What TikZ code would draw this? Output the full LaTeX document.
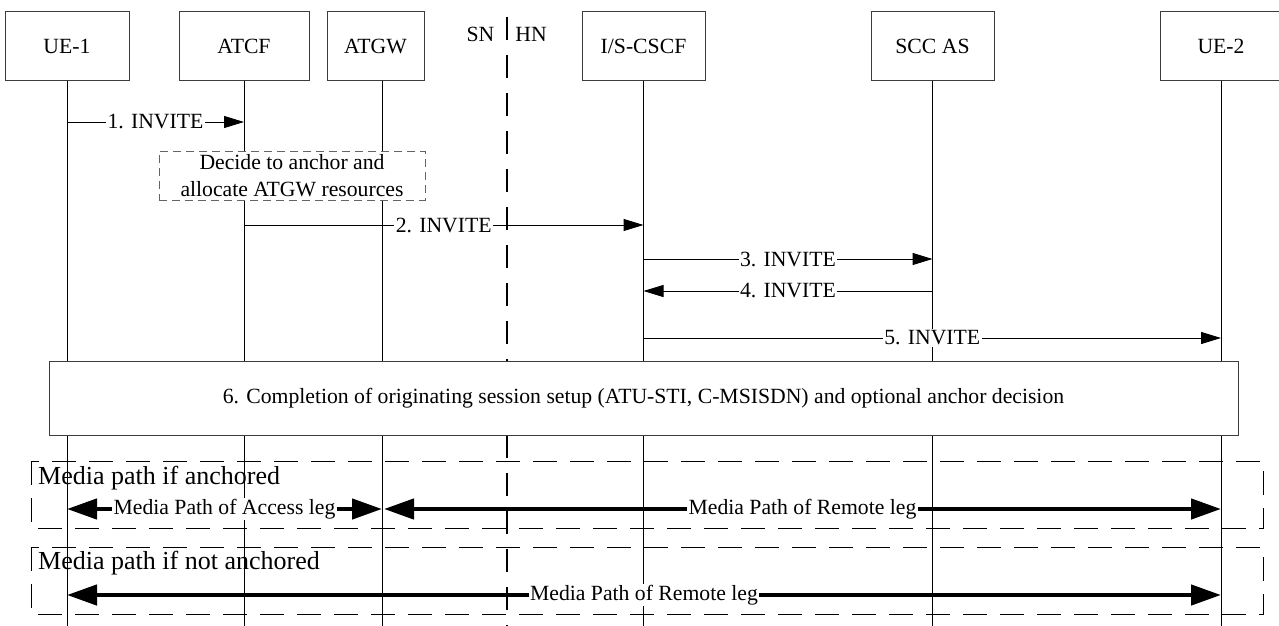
\documentclass[tikz,border=0pt]{standalone}
\usepackage{fontspec}
\setmainfont{Liberation Serif}
\usetikzlibrary{arrows.meta,positioning}
\usepackage{xcolor}
\definecolor{Ink}{RGB}{0,0,0}
\definecolor{BoxEdge}{RGB}{60,60,60}
\definecolor{NoteEdge}{RGB}{100,100,100}
\newcommand{\lblfont}{\fontsize{21.7}{27}\selectfont}
\tikzset{
  ent/.style={rectangle,draw=BoxEdge,fill=white,font=\lblfont,
              minimum width=123pt,minimum height=68pt,inner sep=0pt,line width=1pt},
  lline/.style={draw=Ink,line width=1pt},
  msg/.style={-{Triangle[length=20pt,width=12pt]},Ink,line width=1pt},
  mlbl/.style={fill=white,inner sep=1.5pt,font=\lblfont},
  note/.style={rectangle,draw=NoteEdge,dash pattern=on 8pt off 5pt,fill=white,
               align=center,font=\lblfont,minimum width=266pt,minimum height=49pt,inner sep=0pt},
  phase/.style={rectangle,draw=BoxEdge,fill=white,font=\lblfont,
                minimum width=1189pt,minimum height=74pt,inner sep=0pt,line width=1pt},
  border/.style={draw=Ink,line width=1.2pt,dash pattern=on 23pt off 15pt},
  frame/.style={draw=Ink,line width=1pt,dash pattern=on 24pt off 13pt},
  ftitle/.style={anchor=west,font=\fontsize{26}{30}\selectfont,inner sep=0pt},
  media/.style={{Triangle[length=30pt,width=20pt]}-{Triangle[length=30pt,width=20pt]},
                Ink,line width=4.5pt},
}

\begin{document}
\begin{tikzpicture}[x=1pt,y=-1pt]
    \useasboundingbox (0,0) rectangle (1279,626);
    % entities
    \node[ent,minimum width=124pt] (ue1) at (67,46) {UE-1};
    \node[ent,minimum width=130pt] (atcf) at (244,46) {ATCF};
    \node[ent,minimum width=97pt] (atgw) at (375.5,46) {ATGW};
    \node[ent] (iscscf) at (643.5,46) {I/S-CSCF};
    \node[ent] (sccas) at (932.5,46) {SCC AS};
    \node[ent,minimum width=122pt] (ue2) at (1221,46) {UE-2};
    \node[font=\lblfont,inner sep=0pt] (sn) at (480.5,34.5) {SN};
    \node[font=\lblfont,inner sep=0pt] (hn) at (531,34.5) {HN};
    \coordinate (bot) at (0,626);
    \coordinate (snhn) at (507,17);
    \coordinate (atgwl) at ([xshift=6.5pt]atgw.south);
    % lifelines
    \foreach \e in {ue1,atcf,iscscf,sccas,ue2}
      \draw[lline] (\e.south) -- (\e |- bot);
    \draw[lline] (atgwl) -- (atgwl |- bot);
    \draw[border] (snhn) -- (snhn |- bot);
    % message rows
    \coordinate (r1) at (0,122);
    \coordinate (r2) at (0,225);
    \coordinate (r3) at (0,259);
    \coordinate (r4) at (0,291);
    \coordinate (r5) at (0,338);
    \coordinate (r6) at (0,509);
    \coordinate (r7) at (0,595);
    \draw[msg] (ue1 |- r1) -- node[mlbl] {1. INVITE} (atcf |- r1);
    \node[note] (decide) at (292,175.5) {Decide to anchor and\\allocate ATGW resources};
    \draw[msg] (atcf |- r2) -- node[mlbl] {2. INVITE} (iscscf |- r2);
    \draw[msg] (iscscf |- r3) -- node[mlbl] {3. INVITE} (sccas |- r3);
    \draw[msg] (sccas |- r4) -- node[mlbl] {4. INVITE} (iscscf |- r4);
    \draw[msg] (iscscf |- r5) -- node[mlbl] {5. INVITE} (ue2 |- r5);
    \node[phase] (setup) at (643.5,398)
      {6. Completion of originating session setup (ATU-STI, C-MSISDN) and optional anchor decision};
    % media paths
    \draw[frame] (31,461) rectangle (1263,528);
    \node[ftitle] (anch) at (38,478) {Media path if anchored};
    \draw[media] (ue1 |- r6) -- node[mlbl] {Media Path of Access leg} (atgwl |- r6);
    \draw[media] ([xshift=2pt]atgwl |- r6) -- node[mlbl] {Media Path of Remote leg} (ue2 |- r6);
    \draw[frame] (31,547) rectangle (1263,614);
    \node[ftitle] (nanch) at (38,563) {Media path if not anchored};
    \draw[media] (ue1 |- r7) -- node[mlbl] {Media Path of Remote leg} (ue2 |- r7);
\end{tikzpicture}
\end{document}
